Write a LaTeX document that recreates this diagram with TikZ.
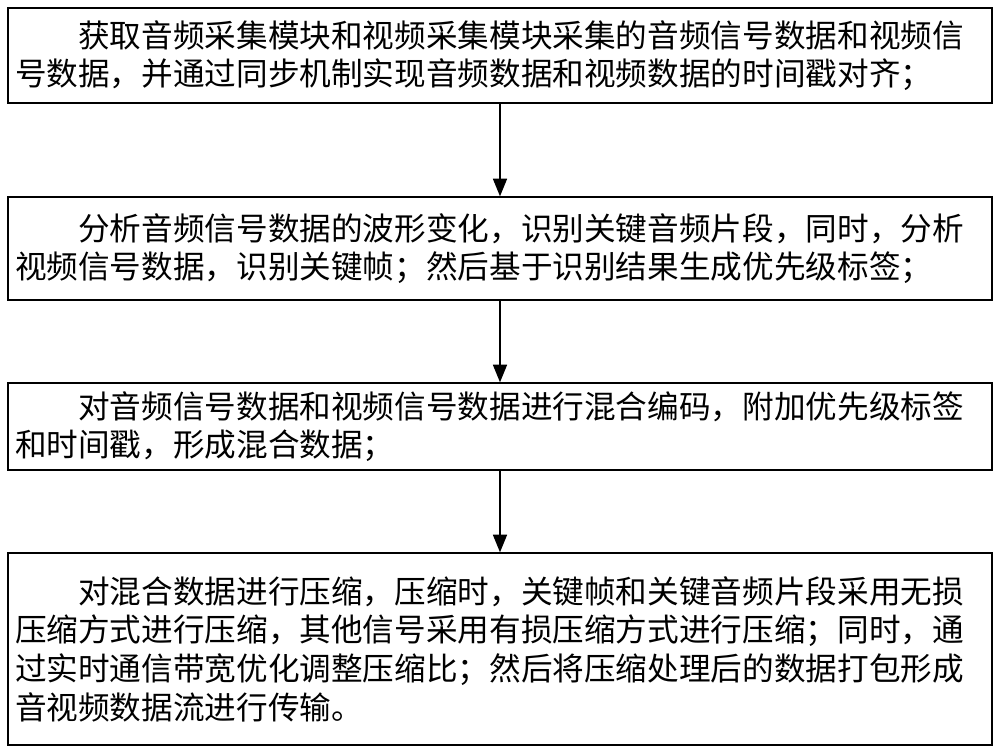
\documentclass[tikz,border=0pt]{standalone}
\usepackage{fontspec}
\setmainfont{Noto Sans CJK SC}
\usetikzlibrary{arrows.meta}
\tikzset{stepbox/.style={draw, thick, minimum width=19.68cm, text width=19.4cm,
  align=left, font=\fontsize{18pt}{22pt}\selectfont},
  flow/.style={-{Triangle[length=10pt,width=8pt]}, thick}}
\begin{document}
\begin{tikzpicture}
\useasboundingbox (0,0) rectangle (20,15.1);
\node[stepbox, minimum height=1.9cm] (s1) at (10,13.99)
  {\hspace*{2em}获取音频采集模块和视频采集模块采集的音频信号数据和视频信\\号数据，并通过同步机制实现音频数据和视频数据的时间戳对齐；};
\node[stepbox, minimum height=2.06cm] (s2) at (10,10.13)
  {\hspace*{2em}分析音频信号数据的波形变化，识别关键音频片段，同时，分析\\视频信号数据，识别关键帧；然后基于识别结果生成优先级标签；};
\node[stepbox, minimum height=1.74cm] (s3) at (10,6.57)
  {\hspace*{2em}对音频信号数据和视频信号数据进行混合编码，附加优先级标签\\和时间戳，形成混合数据；};
\node[stepbox, minimum height=3.84cm] (s4) at (10,2.12)
  {\hspace*{2em}对混合数据进行压缩，压缩时，关键帧和关键音频片段采用无损\\压缩方式进行压缩，其他信号采用有损压缩方式进行压缩；同时，通\\过实时通信带宽优化调整压缩比；然后将压缩处理后的数据打包形成\\音视频数据流进行传输。};
% connectors
\draw[flow] (s1) -- (s2);
\draw[flow] (s2) -- (s3);
\draw[flow] (s3) -- (s4);
\end{tikzpicture}
\end{document}
